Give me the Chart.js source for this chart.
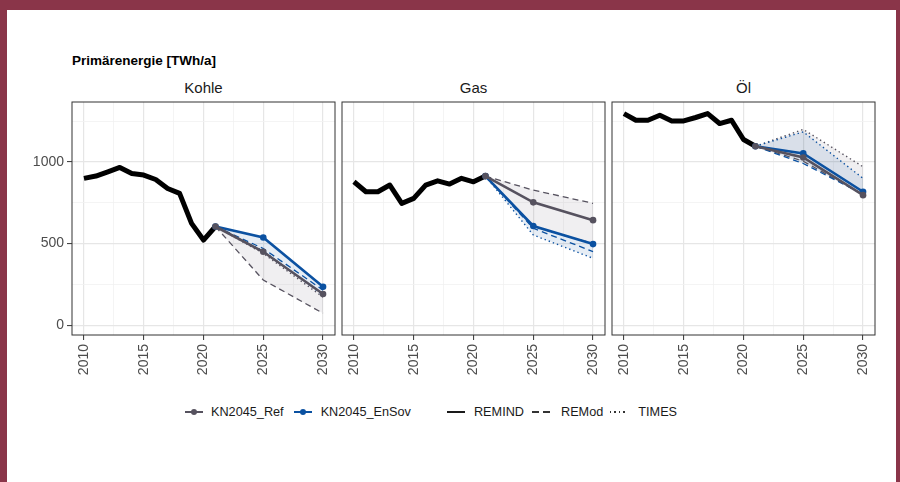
<!DOCTYPE html>
<html>
<head>
<meta charset="utf-8">
<script src="https://cdn.jsdelivr.net/npm/chart.js@4.4.1/dist/chart.umd.min.js"></script>
<style>
  body { margin: 0; background: #fff; }
  #page { position: relative; width: 900px; height: 482px; overflow: hidden; background: #fff;
          font-family: "Liberation Sans", Arial, sans-serif; }
  .bar { position: absolute; background: #8a3549; }
  canvas { position: absolute; }
  .title { position: absolute; left: 72px; top: 53px; font-size: 13.5px; font-weight: bold; line-height: 16px; color: #000; }
  .strip { position: absolute; top: 79px; width: 263px; text-align: center; font-size: 15px; line-height: 18px; color: #1a1a1a; }
  .legend { position: absolute; left: 185px; top: 403px; height: 18px; display: flex; align-items: center;
            font-size: 12.7px; color: #1a1a1a; }
  .sym { position: relative; width: 18px; height: 12px; }
  .sym::before { content: ''; position: absolute; left: 0; right: 0; top: 5px; height: 2px; background: var(--c); }
  .sym.pt::after { content: ''; position: absolute; left: 6px; top: 3px; width: 6px; height: 6px; border-radius: 50%; background: var(--c); }
  .sym.dash::before { height: 1.5px; background: repeating-linear-gradient(90deg, #333 0 7px, transparent 7px 11px); }
  .sym.dot::before { height: 1.5px; background: repeating-linear-gradient(90deg, #333 0 1.5px, transparent 1.5px 4.5px); }
</style>
</head>
<body>
<div id="page">
  <div class="bar" style="left:0;top:0;width:900px;height:10px"></div>
  <div class="bar" style="left:0;top:0;width:7px;height:482px"></div>
  <div class="bar" style="left:896px;top:0;width:4px;height:482px"></div>

  <div class="title">Primärenergie [TWh/a]</div>
  <div class="strip" style="left:72px">Kohle</div>
  <div class="strip" style="left:342px">Gas</div>
  <div class="strip" style="left:612px">Öl</div>

  <canvas id="kohle" width="345" height="295" style="left:0px;top:90px;width:345px;height:295px"></canvas>
  <canvas id="gas" width="283" height="295" style="left:332px;top:90px;width:283px;height:295px"></canvas>
  <canvas id="oel" width="283" height="295" style="left:602px;top:90px;width:283px;height:295px"></canvas>

  <div class="legend">
    <span class="sym pt" style="--c:#56525f"></span><span style="margin-left:8px">KN2045_Ref</span>
    <span class="sym pt" style="--c:#0b51a1;margin-left:10px"></span><span style="margin-left:9px">KN2045_EnSov</span>
    <span class="sym" style="--c:#1a1a1a;margin-left:36px"></span><span style="margin-left:9px">REMIND</span>
    <span class="sym dash" style="margin-left:8px;width:20px"></span><span style="margin-left:9px">REMod</span>
    <span class="sym dot" style="margin-left:7px"></span><span style="margin-left:10px">TIMES</span>
  </div>
</div>

<script>
// Jahre
const histYears = [2010, 2011, 2012, 2013, 2014, 2015, 2016, 2017, 2018, 2019, 2020, 2021];
const scenYears = [2021, 2025, 2030];

// Kohle
const kohleHist = [900, 914, 940, 967, 930, 920, 893, 838, 808, 624, 522, 605];
const kohleRefREMIND = [605, 450, 191];
const kohleRefREMod = [605, 277, 73];
const kohleRefTIMES = [605, 440, 172];
const kohleEnSovREMIND = [605, 538, 236];
const kohleEnSovREMod = [605, 470, 215];
const kohleEnSovTIMES = [605, 455, 185];

// Gas
const gasHist = [879, 818, 818, 859, 747, 777, 859, 885, 865, 900, 879, 914];
const gasRefREMIND = [914, 753, 644];
const gasRefREMod = [914, 828, 747];
const gasRefTIMES = [914, 605, 500];
const gasEnSovREMIND = [914, 608, 497];
const gasEnSovREMod = [914, 594, 451];
const gasEnSovTIMES = [914, 553, 410];

// Öl
const oelHist = [1297, 1256, 1256, 1287, 1252, 1252, 1273, 1297, 1236, 1256, 1138, 1097];
const oelRefREMIND = [1097, 1028, 797];
const oelRefREMod = [1097, 1005, 800];
const oelRefTIMES = [1097, 1200, 971];
const oelEnSovREMIND = [1097, 1053, 818];
const oelEnSovREMod = [1097, 991, 803];
const oelEnSovTIMES = [1097, 1185, 900];

// Achsen
const xMajor = [2010, 2015, 2020, 2025, 2030];
const xMinor = [2012.5, 2017.5, 2022.5, 2027.5];
const yMajor = [0, 500, 1000];
const yMinor = [250, 750, 1250];

const GRAY = '#56525f';
const BLUE = '#0b51a1';
const GRAY_FILL = 'rgba(86, 82, 95, 0.09)';
const BLUE_FILL = 'rgba(11, 81, 161, 0.10)';

function pts(xs, ys) {
    return xs.map((x, i) => ({ x: x, y: ys[i] }));
}

function bandMax(a, b, c) { return a.map((v, i) => Math.max(v, b[i], c[i])); }
function bandMin(a, b, c) { return a.map((v, i) => Math.min(v, b[i], c[i])); }

// Rahmen um jedes Panel
const panelBorder = {
    id: 'panelBorder',
    afterDatasetsDraw(chart) {
        const { ctx, chartArea: a } = chart;
        ctx.save();
        ctx.strokeStyle = '#333333';
        ctx.lineWidth = 1;
        ctx.strokeRect(a.left, a.top, a.right - a.left, a.bottom - a.top);
        ctx.restore();
    }
};

function gridColor(major) {
    return (c) => major.includes(c.tick && c.tick.value) ? '#e6e6e6' : '#f1f1f1';
}
function gridWidth(major) {
    return (c) => major.includes(c.tick && c.tick.value) ? 1.2 : 0.8;
}
function tickColor(major) {
    return (c) => major.includes(c.tick && c.tick.value) ? '#333333' : 'rgba(0,0,0,0)';
}

function makePanel(id, hist, ref, ensov, showY) {
    const ctx = document.getElementById(id).getContext('2d');
    const datasets = [
        // Bänder
        { data: pts(scenYears, bandMax(ref.remind, ref.remod, ref.times)), borderWidth: 0, pointRadius: 0, fill: false, order: 20 },
        { data: pts(scenYears, bandMin(ref.remind, ref.remod, ref.times)), borderWidth: 0, pointRadius: 0, fill: '-1', backgroundColor: GRAY_FILL, order: 19 },
        { data: pts(scenYears, bandMax(ensov.remind, ensov.remod, ensov.times)), borderWidth: 0, pointRadius: 0, fill: false, order: 18 },
        { data: pts(scenYears, bandMin(ensov.remind, ensov.remod, ensov.times)), borderWidth: 0, pointRadius: 0, fill: '-1', backgroundColor: BLUE_FILL, order: 17 },
        // Historie
        { data: pts(histYears, hist), borderColor: '#000000', borderWidth: 5, pointRadius: 0, borderJoinStyle: 'round', order: 10 },
        // Modelle
        { data: pts(scenYears, ref.remod), borderColor: GRAY, borderWidth: 1.3, borderDash: [6, 4], pointRadius: 0, order: 6 },
        { data: pts(scenYears, ref.times), borderColor: GRAY, borderWidth: 1.4, borderDash: [1.4, 3], pointRadius: 0, order: 6 },
        { data: pts(scenYears, ensov.remod), borderColor: BLUE, borderWidth: 1.3, borderDash: [6, 4], pointRadius: 0, order: 5 },
        { data: pts(scenYears, ensov.times), borderColor: BLUE, borderWidth: 1.4, borderDash: [1.4, 3], pointRadius: 0, order: 5 },
        { data: pts(scenYears, ensov.remind), borderColor: BLUE, borderWidth: 2.6, pointRadius: 3.3, pointBackgroundColor: BLUE, pointBorderWidth: 0, order: 2 },
        { data: pts(scenYears, ref.remind), borderColor: GRAY, borderWidth: 2.6, pointRadius: 3.3, pointBackgroundColor: GRAY, pointBorderWidth: 0, order: 1 }
    ];

    new Chart(ctx, {
        type: 'line',
        data: { datasets: datasets },
        plugins: [panelBorder],
        options: {
            responsive: false,
            animation: false,
            devicePixelRatio: 1,
            layout: { padding: { top: 12, right: 10, bottom: 0, left: showY ? 0 : 10 } },
            elements: { line: { tension: 0 } },
            plugins: { legend: { display: false }, tooltip: { enabled: false } },
            scales: {
                x: {
                    type: 'linear',
                    min: 2009,
                    max: 2031,
                    afterBuildTicks: (s) => { s.ticks = xMajor.concat(xMinor).sort((a, b) => a - b).map(v => ({ value: v })); },
                    afterFit: (s) => { s.height = 50; },
                    border: { display: false },
                    grid: { color: gridColor(xMajor), lineWidth: gridWidth(xMajor), tickColor: tickColor(xMajor), tickLength: 5, tickWidth: 1 },
                    ticks: {
                        autoSkip: false,
                        minRotation: 90,
                        maxRotation: 90,
                        padding: 4,
                        color: '#4d4d4d',
                        font: { family: 'Liberation Sans', size: 14 },
                        callback: (v) => xMajor.includes(v) ? String(v) : ''
                    }
                },
                y: {
                    type: 'linear',
                    min: -60,
                    max: 1368,
                    afterBuildTicks: (s) => { s.ticks = yMajor.concat(yMinor).sort((a, b) => a - b).map(v => ({ value: v })); },
                    afterFit: (s) => { s.width = showY ? 72 : 0; },
                    border: { display: false },
                    grid: { color: gridColor(yMajor), lineWidth: gridWidth(yMajor), tickColor: tickColor(yMajor), tickLength: 5, tickWidth: 1, drawTicks: showY },
                    ticks: {
                        display: showY,
                        padding: 3,
                        color: '#4d4d4d',
                        font: { family: 'Liberation Sans', size: 14 },
                        callback: (v) => yMajor.includes(v) ? String(v) : ''
                    }
                }
            }
        }
    });
}

makePanel('kohle', kohleHist,
    { remind: kohleRefREMIND, remod: kohleRefREMod, times: kohleRefTIMES },
    { remind: kohleEnSovREMIND, remod: kohleEnSovREMod, times: kohleEnSovTIMES }, true);
makePanel('gas', gasHist,
    { remind: gasRefREMIND, remod: gasRefREMod, times: gasRefTIMES },
    { remind: gasEnSovREMIND, remod: gasEnSovREMod, times: gasEnSovTIMES }, false);
makePanel('oel', oelHist,
    { remind: oelRefREMIND, remod: oelRefREMod, times: oelRefTIMES },
    { remind: oelEnSovREMIND, remod: oelEnSovREMod, times: oelEnSovTIMES }, false);
</script>
</body>
</html>
